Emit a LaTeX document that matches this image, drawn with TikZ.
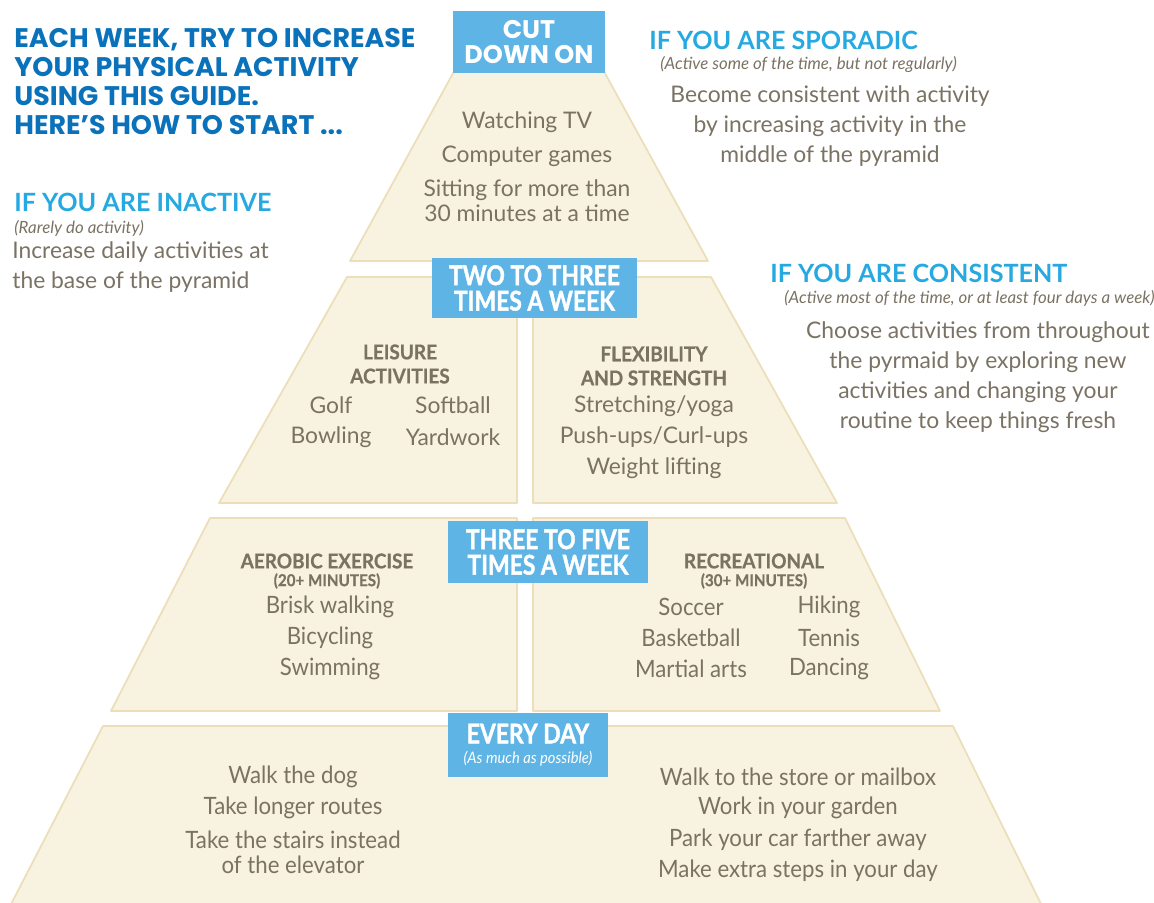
\documentclass[tikz,border=0pt]{standalone}
\usepackage{fontspec}
\setmainfont{Lato}
\newfontfamily\titlefont{Poppins}
\newfontfamily\condfont{Lato}[FakeStretch=0.93, BoldFeatures={FakeBold=0.6}]
\newfontfamily\boxfont{Lato}[FakeStretch=0.84, BoldFeatures={FakeBold=1.4}]
\definecolor{tierfill}{RGB}{248,243,225}
\definecolor{tieredge}{RGB}{236,222,184}
\definecolor{boxblue}{RGB}{94,180,228}
\definecolor{titleblue}{RGB}{10,114,186}
\definecolor{headblue}{RGB}{38,169,224}
\definecolor{itemgray}{RGB}{122,114,99}

\begin{document}
\begin{tikzpicture}[x=0.02cm, y=-0.02cm,
		tier/.style={fill=tierfill, draw=tieredge, line width=1pt, line join=round},
		labelbox/.style={fill=boxblue, text=white, inner sep=0pt, align=center, font=\boxfont\bfseries\fontsize{15.5}{14.5}\selectfont},
		item/.style={text=itemgray, align=center, inner sep=0pt, font=\fontsize{13}{17}\selectfont},
		citem/.style={item, font=\condfont\fontsize{13.6}{14.2}\selectfont},
		subhead/.style={text=itemgray, align=center, inner sep=0pt, font=\condfont\bfseries\fontsize{11.6}{13.7}\selectfont},
		subnote/.style={text=itemgray, inner sep=0pt, font=\condfont\bfseries\fontsize{9.3}{10}\selectfont},
		heading/.style={text=headblue, anchor=west, inner sep=0pt, font=\bfseries\fontsize{14.3}{16}\selectfont},
		note/.style={text=itemgray, anchor=west, inner sep=0pt, font=\itshape\fontsize{9.6}{11}\selectfont}]
	\useasboundingbox (0,0) rectangle (1154,903);
	\begin{scope}
		\clip (0,0) rectangle (1154,903);
		% pyramid, top to bottom
		\draw[tier] (350,261) -- (457,66) -- (601,66) -- (708,261) -- cycle;
		\draw[tier] (347,277) -- (517,277) -- (517,503) -- (219,503) -- cycle;
		\draw[tier] (533,277) -- (711,277) -- (837,503) -- (533,503) -- cycle;
		\draw[tier] (210,518) -- (517,518) -- (517,711) -- (111,711) -- cycle;
		\draw[tier] (533,518) -- (845,518) -- (940,711) -- (533,711) -- cycle;
		\draw[tier] (103,726) -- (953,726) -- (1045,912) -- (7,912) -- cycle;
	\end{scope}

	\node[labelbox, minimum width=3.04cm, minimum height=1.24cm, font=\titlefont\bfseries\fontsize{14.5}{14.2}\selectfont] (cut) at (529,42) {CUT\\DOWN ON};
	\node[labelbox, minimum width=4.1cm, minimum height=1.2cm] (twothree) at (534.5,288) {TWO TO THREE\\TIMES A WEEK};
	\node[labelbox, minimum width=4cm, minimum height=1.24cm] (threefive) at (548,552) {THREE TO FIVE\\TIMES A WEEK};
	\node[labelbox, minimum width=3.2cm, minimum height=1.28cm] (everyday) at (528,745) {EVERY DAY\\[-3pt]{\condfont\itshape\mdseries\fontsize{9}{10}\selectfont (As much as possible)}};

	% left column
	\node[anchor=north west, align=left, inner sep=0pt, text=titleblue, font=\titlefont\bfseries\fontsize{15.3}{16.5}\selectfont] (title) at (14,28) {EACH WEEK, TRY TO INCREASE\\YOUR PHYSICAL ACTIVITY\\USING THIS GUIDE.\\HERE’S HOW TO START ...};
	\node[heading] (inactive) at (14,202) {IF YOU ARE INACTIVE};
	\node[note] (inactivenote) at (14,228) {(Rarely do activity)};
	\node[item, anchor=west, align=left] (inactivetext) at (12,267) {Increase daily activities at\\the base of the pyramid};

	% right column
	\node[heading] (sporadic) at (649,40) {IF YOU ARE SPORADIC};
	\node[note] (sporadicnote) at (660,65) {(Active some of the time, but not regularly)};
	\node[item] (sporadictext) at (830,126) {Become consistent with activity\\by increasing activity in the\\middle of the pyramid};
	\node[heading] (consistent) at (770,273) {IF YOU ARE CONSISTENT};
	\node[note] (consistentnote) at (784,298) {(Active most of the time, or at least four days a week)};
	\node[item] (consistenttext) at (978,377) {Choose activities from throughout\\the pyrmaid by exploring new\\activities and changing your\\routine to keep things fresh};

	% cut down on
	\node[item] (tv) at (527,122) {Watching TV};
	\node[item] (games) at (527,156) {Computer games};
	\node[item, font=\fontsize{13}{14.2}\selectfont] (sitting) at (527,201) {Sitting for more than\\30 minutes at a time};

	% two to three times
	\node[subhead] (leisure) at (400,364) {LEISURE\\ACTIVITIES};
	\node[item] (golf) at (331,405) {Golf};
	\node[item] (softball) at (453,405) {Softball};
	\node[item] (bowling) at (331,437) {Bowling};
	\node[item] (yardwork) at (453,437) {Yardwork};
	\node[subhead] (flex) at (654,366) {FLEXIBILITY\\AND STRENGTH};
	\node[item] (stretch) at (654,406) {Stretching/yoga};
	\node[item] (pushups) at (654,437) {Push-ups/Curl-ups};
	\node[item] (weights) at (654,468) {Weight lifting};

	% three to five times
	\node[subhead] (aerobic) at (327,561) {AEROBIC EXERCISE};
	\node[subnote] (aerobicmin) at (327,581) {(20+ MINUTES)};
	\node[citem] (brisk) at (330,607) {Brisk walking};
	\node[citem] (bike) at (330,638) {Bicycling};
	\node[citem] (swim) at (330,669) {Swimming};
	\node[subhead] (recreational) at (754,561) {RECREATIONAL};
	\node[subnote] (recmin) at (754,581) {(30+ MINUTES)};
	\node[citem] (soccer) at (691,607) {Soccer};
	\node[citem] (hiking) at (829,607) {Hiking};
	\node[citem] (basket) at (691,638) {Basketball};
	\node[citem] (tennis) at (829,638) {Tennis};
	\node[citem] (martial) at (691,669) {Martial arts};
	\node[citem] (dancing) at (829,669) {Dancing};

	% every day
	\node[citem] (dog) at (293,777) {Walk the dog};
	\node[citem] (routes) at (293,808) {Take longer routes};
	\node[citem] (stairs) at (293,852) {Take the stairs instead\\of the elevator};
	\node[citem] (store) at (798,777) {Walk to the store or mailbox};
	\node[citem] (garden) at (798,808) {Work in your garden};
	\node[citem] (park) at (798,840) {Park your car farther away};
	\node[citem] (steps) at (798,871) {Make extra steps in your day};
\end{tikzpicture}
\end{document}
